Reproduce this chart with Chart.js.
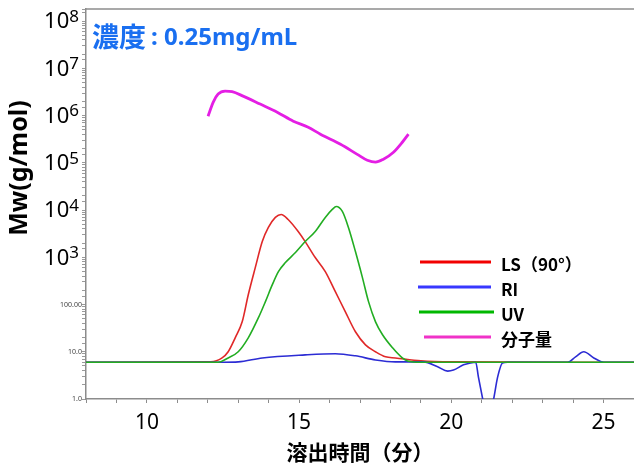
<!DOCTYPE html>
<html>
<head>
<meta charset="utf-8">
<script src="https://cdn.jsdelivr.net/npm/chart.js@4/dist/chart.umd.min.js"></script>
<style>
  body { margin: 0; background: #fff; }
  canvas { display: block; }
</style>
</head>
<body>
<canvas id="mwChart" width="634" height="469"></canvas>
<script>
// 溶出時間 (分) と各検出器の値
const lsTime = [8, 12.1, 12.47, 12.67, 12.9, 13.13, 13.33, 13.56, 13.79, 13.99, 14.22, 14.41, 14.64, 14.97, 15.2, 15.53, 15.86, 16.19, 16.52, 16.85, 17.18, 17.51, 17.84, 18.16, 19.0, 20.0, 26];
const lsVal  = [6.0, 6.1, 7.4, 10, 19.7, 43, 161, 604, 2150, 4270, 6970, 8070, 6310, 3510, 2150, 986, 497, 187, 70, 26.5, 14, 10, 7.8, 7.4, 6.4, 6.1, 6.0];

const riTime = [8, 12.5, 13.0, 13.79, 15.2, 16.19, 16.85, 17.51, 18.16, 19.09, 19.55, 19.88, 20.07, 20.4, 20.63, 20.8, 20.89, 21.03, 21.2, 21.39, 21.52, 21.68, 21.85, 23.82, 24.08, 24.35, 24.68, 25.01, 26];
const riVal  = [6.0, 6.0, 6.1, 7.4, 8.6, 9.1, 8.2, 6.7, 6.1, 6.1, 4.8, 3.9, 4.1, 5.3, 5.8, 6.0, 2.9, 1.0, 0.3, 1.0, 2.9, 5.8, 6.0, 6.0, 7.8, 10, 7.4, 6.0, 6.0];

const uvTime = [8, 12.34, 12.67, 13.0, 13.33, 13.66, 13.89, 14.12, 14.32, 14.55, 14.88, 15.2, 15.53, 15.86, 16.09, 16.22, 16.42, 16.62, 16.85, 17.08, 17.28, 17.51, 17.74, 18.07, 18.39, 18.56, 19.0, 26];
const uvVal  = [6.0, 6.0, 7.4, 10, 19.7, 52, 114, 263, 497, 772, 1260, 2150, 3510, 6970, 10300, 11900, 9340, 4270, 1320, 371, 115, 43, 22.9, 12.1, 7.4, 6.4, 6.0, 6.0];

const mwTime = [12.01, 12.18, 12.34, 12.57, 12.8, 13.16, 13.72, 14.28, 14.81, 15.3, 15.7, 16.36, 16.91, 17.24, 17.51, 17.77, 18.1, 18.39, 18.59];
const mwVal  = [9.7e5, 1.93e6, 2.85e6, 3.3e6, 3.2e6, 2.58e6, 1.75e6, 1.18e6, 7.6e5, 5.67e5, 4.03e5, 2.47e5, 1.51e5, 1.13e5, 1.03e5, 1.19e5, 1.67e5, 2.72e5, 4.03e5];

const xTickLabels = [10, 15, 20, 25];
const bigDecades = [3, 4, 5, 6, 7, 8];
const smallLabels = [[1, '1.0'], [10, '10.0'], [100, '100.00']];

const seriesNames = ['LS（90°）', 'RI', 'UV', '分子量'];
const lineColors = ['#e02828', '#2c2cd4', '#22ad22', '#e41ee4'];
const legendColors = ['#f20000', '#3838ff', '#00b800', '#f032c8'];

const FONT = '"Noto Sans", "Noto Sans CJK JP", sans-serif';
const JFONT = '"Noto Sans CJK JP", "Noto Sans", sans-serif';

function pts(xs, ys) {
    return xs.map((x, i) => ({ x: x, y: ys[i] }));
}

const decorPlugin = {
    id: 'decor',
    afterDraw(chart) {
        const ctx = chart.ctx;
        const area = chart.chartArea;
        const ys = chart.scales.y;
        ctx.save();

        // 上の枠線
        ctx.strokeStyle = '#8c8c8c';
        ctx.lineWidth = 1.5;
        ctx.beginPath();
        ctx.moveTo(area.left, area.top);
        ctx.lineTo(area.right, area.top);
        ctx.stroke();

        // y目盛りラベル 10^n
        ctx.fillStyle = '#000';
        ctx.textBaseline = 'middle';
        ctx.textAlign = 'left';
        bigDecades.forEach(e => {
            const y = ys.getPixelForValue(Math.pow(10, e));
            ctx.font = '17px ' + FONT;
            const ew = ctx.measureText(String(e)).width;
            ctx.font = '22px ' + FONT;
            const bw = ctx.measureText('10').width;
            const right = 79;
            ctx.fillText('10', right - ew - bw, y + 1);
            ctx.font = '17px ' + FONT;
            ctx.fillText(String(e), right - ew, y - 4);
        });

        // 下のクロマト用の小さいラベル
        ctx.font = '7px ' + FONT;
        ctx.fillStyle = '#444';
        ctx.textAlign = 'right';
        smallLabels.forEach(([v, t]) => {
            ctx.fillText(t, 82, ys.getPixelForValue(v));
        });

        // y軸タイトル
        ctx.save();
        ctx.translate(20, 168);
        ctx.rotate(-Math.PI / 2);
        ctx.font = 'bold 25px ' + FONT;
        ctx.fillStyle = '#000';
        ctx.textAlign = 'center';
        ctx.textBaseline = 'middle';
        ctx.fillText('Mw(g/mol)', 0, 0);
        ctx.restore();

        // 濃度
        ctx.fillStyle = '#1a6ff0';
        ctx.textAlign = 'left';
        ctx.textBaseline = 'middle';
        ctx.font = 'bold 27px ' + JFONT;
        ctx.fillText('濃度', 92, 37);
        ctx.font = 'bold 24px ' + FONT;
        ctx.fillText(':', 151, 38);
        ctx.fillText('0.25mg/mL', 164, 38);

        // 凡例
        const legY = [262, 287, 312, 337];
        const legX0 = [420, 418, 419, 424];
        const legX1 = [491, 491, 494, 491];
        ctx.lineWidth = 3;
        ctx.font = 'bold 17px ' + JFONT;
        ctx.textAlign = 'left';
        seriesNames.forEach((name, i) => {
            ctx.strokeStyle = legendColors[i];
            ctx.beginPath();
            ctx.moveTo(legX0[i], legY[i]);
            ctx.lineTo(legX1[i], legY[i]);
            ctx.stroke();
            ctx.fillStyle = '#000';
            ctx.fillText(name, 501, legY[i] + 3);
        });

        ctx.restore();
    }
};

window.onload = function() {
    const ctx = document.getElementById('mwChart').getContext('2d');
    new Chart(ctx, {
        type: 'line',
        data: {
            datasets: [
                { label: seriesNames[0], data: pts(lsTime, lsVal), borderColor: lineColors[0], borderWidth: 1.6, order: 2 },
                { label: seriesNames[1], data: pts(riTime, riVal), borderColor: lineColors[1], borderWidth: 1.6, order: 1 },
                { label: seriesNames[2], data: pts(uvTime, uvVal), borderColor: lineColors[2], borderWidth: 1.6, order: 0 },
                { label: seriesNames[3], data: pts(mwTime, mwVal), borderColor: lineColors[3], borderWidth: 2.8, order: 3 }
            ]
        },
        options: {
            responsive: false,
            animation: false,
            layout: { padding: { top: 9, right: 0, left: 0, bottom: 0 } },
            elements: {
                point: { radius: 0 },
                line: { cubicInterpolationMode: 'monotone', fill: false }
            },
            plugins: {
                legend: { display: false },
                tooltip: { enabled: false }
            },
            scales: {
                x: {
                    type: 'linear',
                    min: 8,
                    max: 26,
                    afterFit: s => { s.height = 70; s.paddingLeft = 0; s.paddingRight = 0; },
                    border: { color: '#8c8c8c', width: 1.5 },
                    grid: { drawOnChartArea: false, drawTicks: true, tickLength: 4, tickColor: '#8c8c8c' },
                    ticks: {
                        stepSize: 1,
                        autoSkip: false,
                        maxRotation: 0,
                        padding: 7,
                        color: '#000',
                        font: { size: 21, family: FONT },
                        callback: v => xTickLabels.includes(v) ? String(v) : ''
                    },
                    title: {
                        display: true,
                        text: '溶出時間（分）',
                        color: '#000',
                        font: { size: 21, weight: 'bold', family: JFONT },
                        padding: { top: 0, bottom: 4 }
                    }
                },
                y: {
                    type: 'logarithmic',
                    min: 1,
                    max: 1.8e8,
                    afterFit: s => { s.width = 86; s.paddingTop = 0; s.paddingBottom = 0; },
                    border: { color: '#8c8c8c', width: 1.5 },
                    grid: { drawOnChartArea: false, drawTicks: true, tickLength: 4, tickColor: '#9a9a9a' },
                    ticks: {
                        autoSkip: false,
                        callback: () => ''
                    }
                }
            }
        },
        plugins: [decorPlugin]
    });
};
</script>
</body>
</html>
